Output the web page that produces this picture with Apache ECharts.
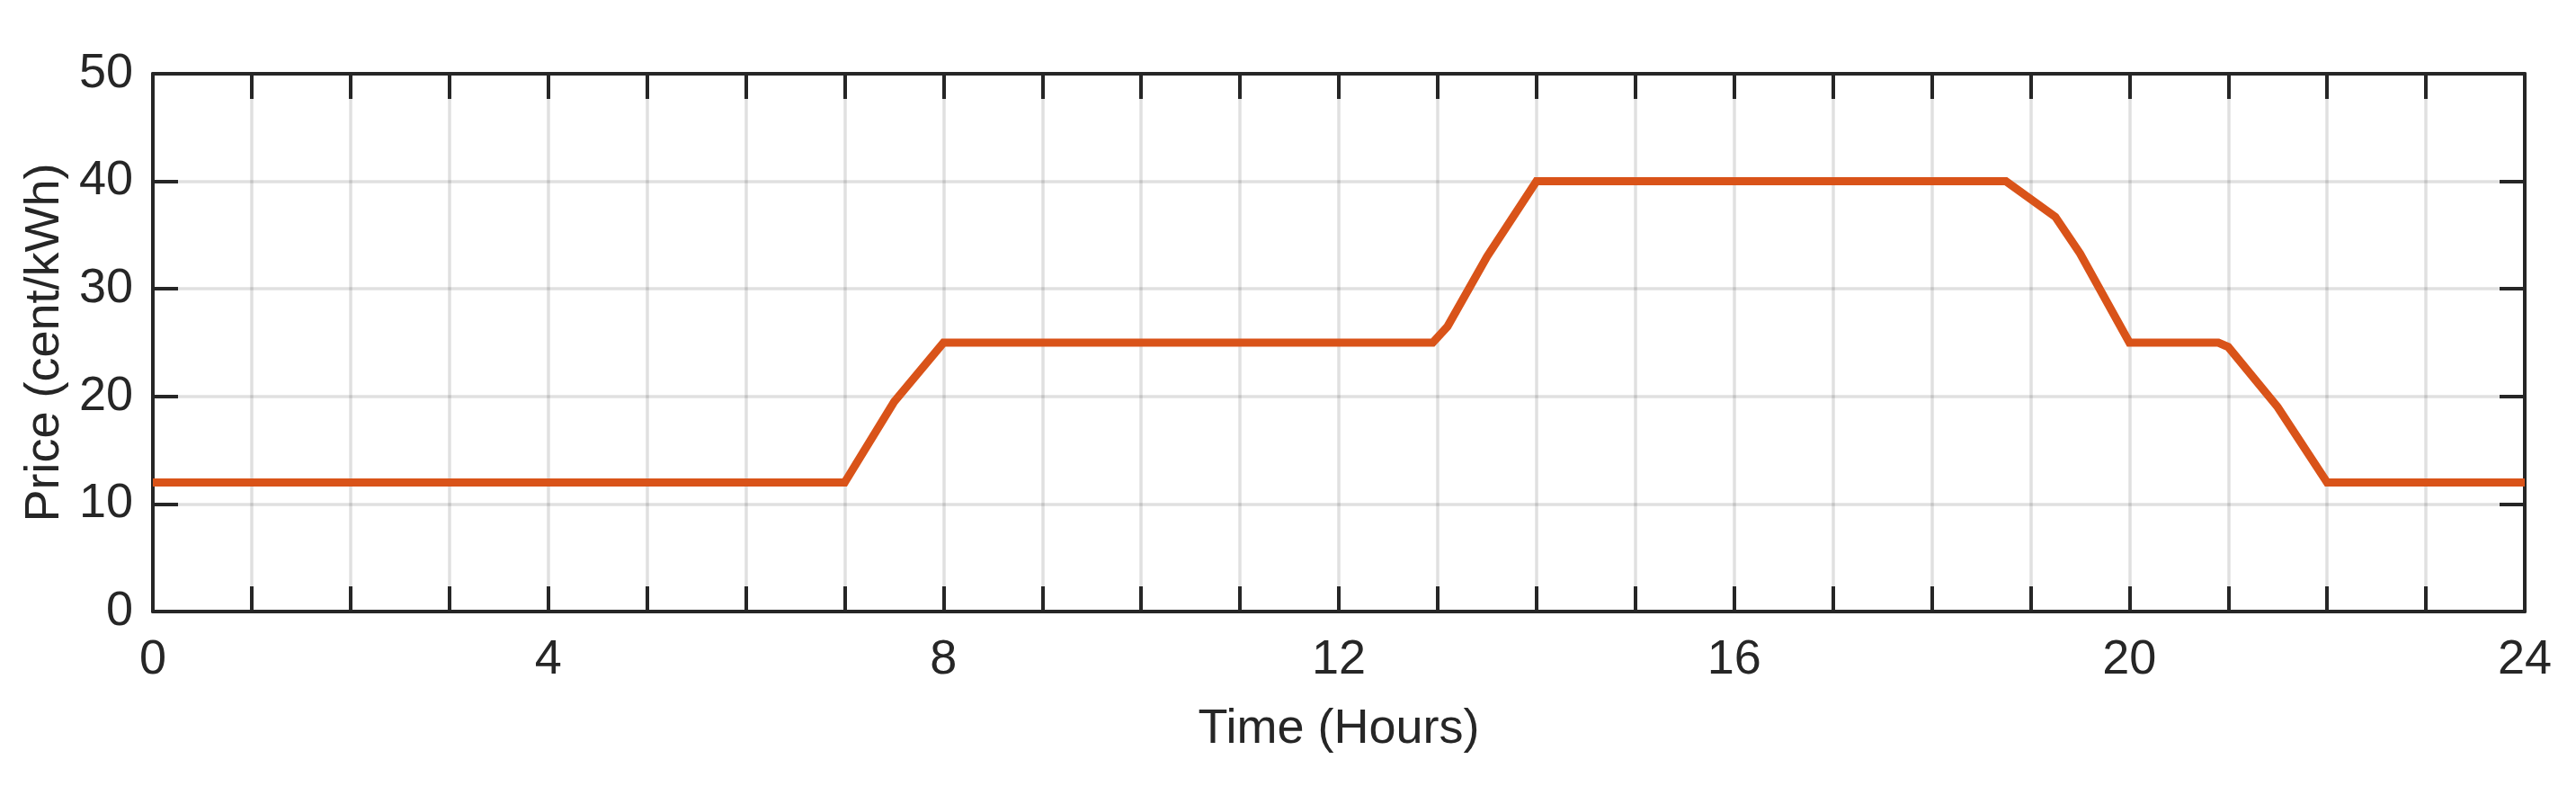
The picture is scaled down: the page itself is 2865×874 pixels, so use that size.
<!DOCTYPE html>
<html>
<head>
<meta charset="utf-8">
<script src="https://cdn.jsdelivr.net/npm/echarts@6/dist/echarts.min.js"></script>
<style>
  html, body { margin: 0; padding: 0; background: #fff; }
  #container { width: 2865px; height: 874px; }
</style>
</head>
<body>
<div id="container"></div>
<script>
var dom = document.getElementById("container");
var myChart = echarts.init(dom, null, { renderer: "canvas" });

// price profile over the day
var hours = [0, 7, 7.5, 8, 12.95, 13.1, 13.5, 14, 18.75, 19.25, 19.5, 20, 20.9, 21, 21.5, 22, 24];
var price = [12, 12, 19.5, 25, 25, 26.5, 33, 40, 40, 36.7, 33.3, 25, 25, 24.6, 19, 12, 12];

var xLabelStep = 4;

var seriesData = [];
for (var i = 0; i < hours.length; i++) {
  seriesData.push([hours[i], price[i]]);
}

var textColor = "#262626";
var fontName = "Liberation Sans";
var fontSize = 54;
var gridColor = "rgba(0,0,0,0.12)";

var boxLine = { show: true, onZero: false, lineStyle: { color: textColor, width: 4 } };
var boxTick = { show: true, inside: true, length: 28, lineStyle: { color: textColor, width: 4 } };

var option = {
  animation: false,
  backgroundColor: "#fff",
  grid: {
    left: 170,
    right: 57,
    top: 82,
    bottom: 194,
    containLabel: false,
    outerBoundsMode: "none"
  },
  xAxis: [
    {
      type: "value",
      min: 0,
      max: 24,
      interval: 1,
      position: "bottom",
      name: "Time (Hours)",
      nameLocation: "middle",
      nameGap: 104,
      nameTextStyle: { color: textColor, fontSize: fontSize, fontFamily: fontName },
      axisLine: boxLine,
      axisTick: boxTick,
      axisLabel: {
        color: textColor,
        fontSize: fontSize,
        fontFamily: fontName,
        margin: 27,
        formatter: function (v) {
          return v % xLabelStep === 0 ? String(v) : "";
        }
      },
      splitLine: { show: true, lineStyle: { color: gridColor, width: 3.5 } }
    },
    {
      type: "value",
      min: 0,
      max: 24,
      interval: 1,
      position: "top",
      axisLine: boxLine,
      axisTick: boxTick,
      axisLabel: { show: false },
      splitLine: { show: false }
    }
  ],
  yAxis: [
    {
      type: "value",
      min: 0,
      max: 50,
      interval: 10,
      position: "left",
      name: "Price (cent/kWh)",
      nameLocation: "middle",
      nameGap: 80,
      nameTextStyle: { color: textColor, fontSize: fontSize, fontFamily: fontName },
      axisLine: boxLine,
      axisTick: boxTick,
      axisLabel: { color: textColor, fontSize: fontSize, fontFamily: fontName, margin: 22 },
      splitLine: { show: true, lineStyle: { color: gridColor, width: 3.5 } }
    },
    {
      type: "value",
      min: 0,
      max: 50,
      interval: 10,
      position: "right",
      axisLine: boxLine,
      axisTick: boxTick,
      axisLabel: { show: false },
      splitLine: { show: false }
    }
  ],
  series: [
    {
      name: "Price",
      type: "line",
      xAxisIndex: 0,
      yAxisIndex: 0,
      data: seriesData,
      showSymbol: false,
      symbol: "none",
      lineStyle: { color: "#D95319", width: 9, join: "miter" },
      z: 5
    }
  ]
};

myChart.setOption(option, true);
</script>
</body>
</html>
